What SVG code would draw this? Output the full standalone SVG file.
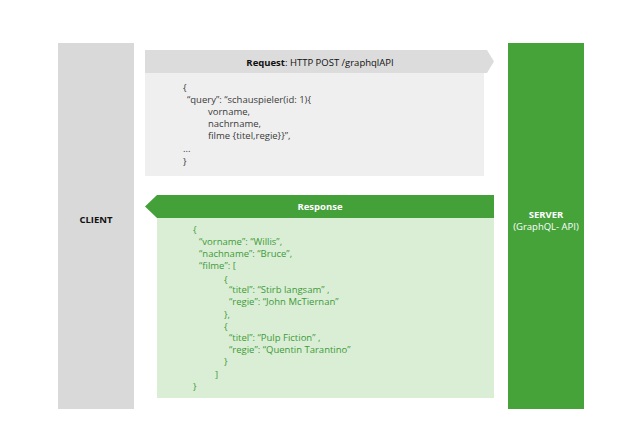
<svg xmlns="http://www.w3.org/2000/svg" width="640" height="447" viewBox="0 0 640 447">
<style>
text{font-family:"Open Sans","DejaVu Sans",sans-serif;font-size:9.5px}
.req{fill:#3a3a3a}
.res{fill:#3e9a36}
.b{font-weight:bold}
.w{fill:#ffffff}
</style>
<rect width="640" height="447" fill="#ffffff"/>
<g id="client">
<rect x="58" y="43" width="76" height="366" fill="#d9d9d9"/>
<text x="96" y="223" text-anchor="middle" class="b" fill="#111">CLIENT</text>
</g>
<g id="server">
<rect x="508" y="43" width="76" height="366" fill="#45a33a"/>
<text x="546" y="218" text-anchor="middle" class="b w">SERVER</text>
<text x="546" y="230" text-anchor="middle" class="w">(GraphQL- API)</text>
</g>
<g id="connectors">
<g id="request">
<rect x="145" y="73" width="339" height="103" fill="#efefef"/>
<polygon points="145,50 487,50 494,61.5 487,73 145,73" fill="#dcdcdc"/>
<text x="320" y="65.5" text-anchor="middle" fill="#111"><tspan class="b">Request</tspan>: HTTP POST /graphqlAPI</text>
<g class="req">
<text x="183" y="91">{</text>
<text x="187" y="103">“query”: “schauspieler(id: 1){</text>
<text x="208" y="115">vorname,</text>
<text x="208" y="127">nachrname,</text>
<text x="208" y="139">filme {titel,regie}}”,</text>
<text x="183" y="152">...</text>
<text x="183" y="165">}</text>
</g>
</g>
<g id="response">
<rect x="157" y="218" width="337" height="180" fill="#daeed6"/>
<polygon points="494,195 157,195 145,206.5 157,218 494,218" fill="#44a038"/>
<text x="320" y="210" text-anchor="middle" class="b w">Response</text>
<g class="res">
<text x="193" y="233">{</text>
<text x="199" y="245">“vorname”: “Willis”,</text>
<text x="199" y="257">“nachname”: “Bruce”,</text>
<text x="199" y="269">“filme”: [</text>
<text x="224" y="283">{</text>
<text x="229" y="293">“titel”: “Stirb langsam” ,</text>
<text x="229" y="305">“regie”: “John McTiernan”</text>
<text x="224" y="318">},</text>
<text x="224" y="330">{</text>
<text x="229" y="341">“titel”: “Pulp Fiction” ,</text>
<text x="229" y="353">“regie”: “Quentin Tarantino”</text>
<text x="224" y="365">}</text>
<text x="215" y="378">]</text>
<text x="193" y="390">}</text>
</g>
</g>
</g>
</svg>
